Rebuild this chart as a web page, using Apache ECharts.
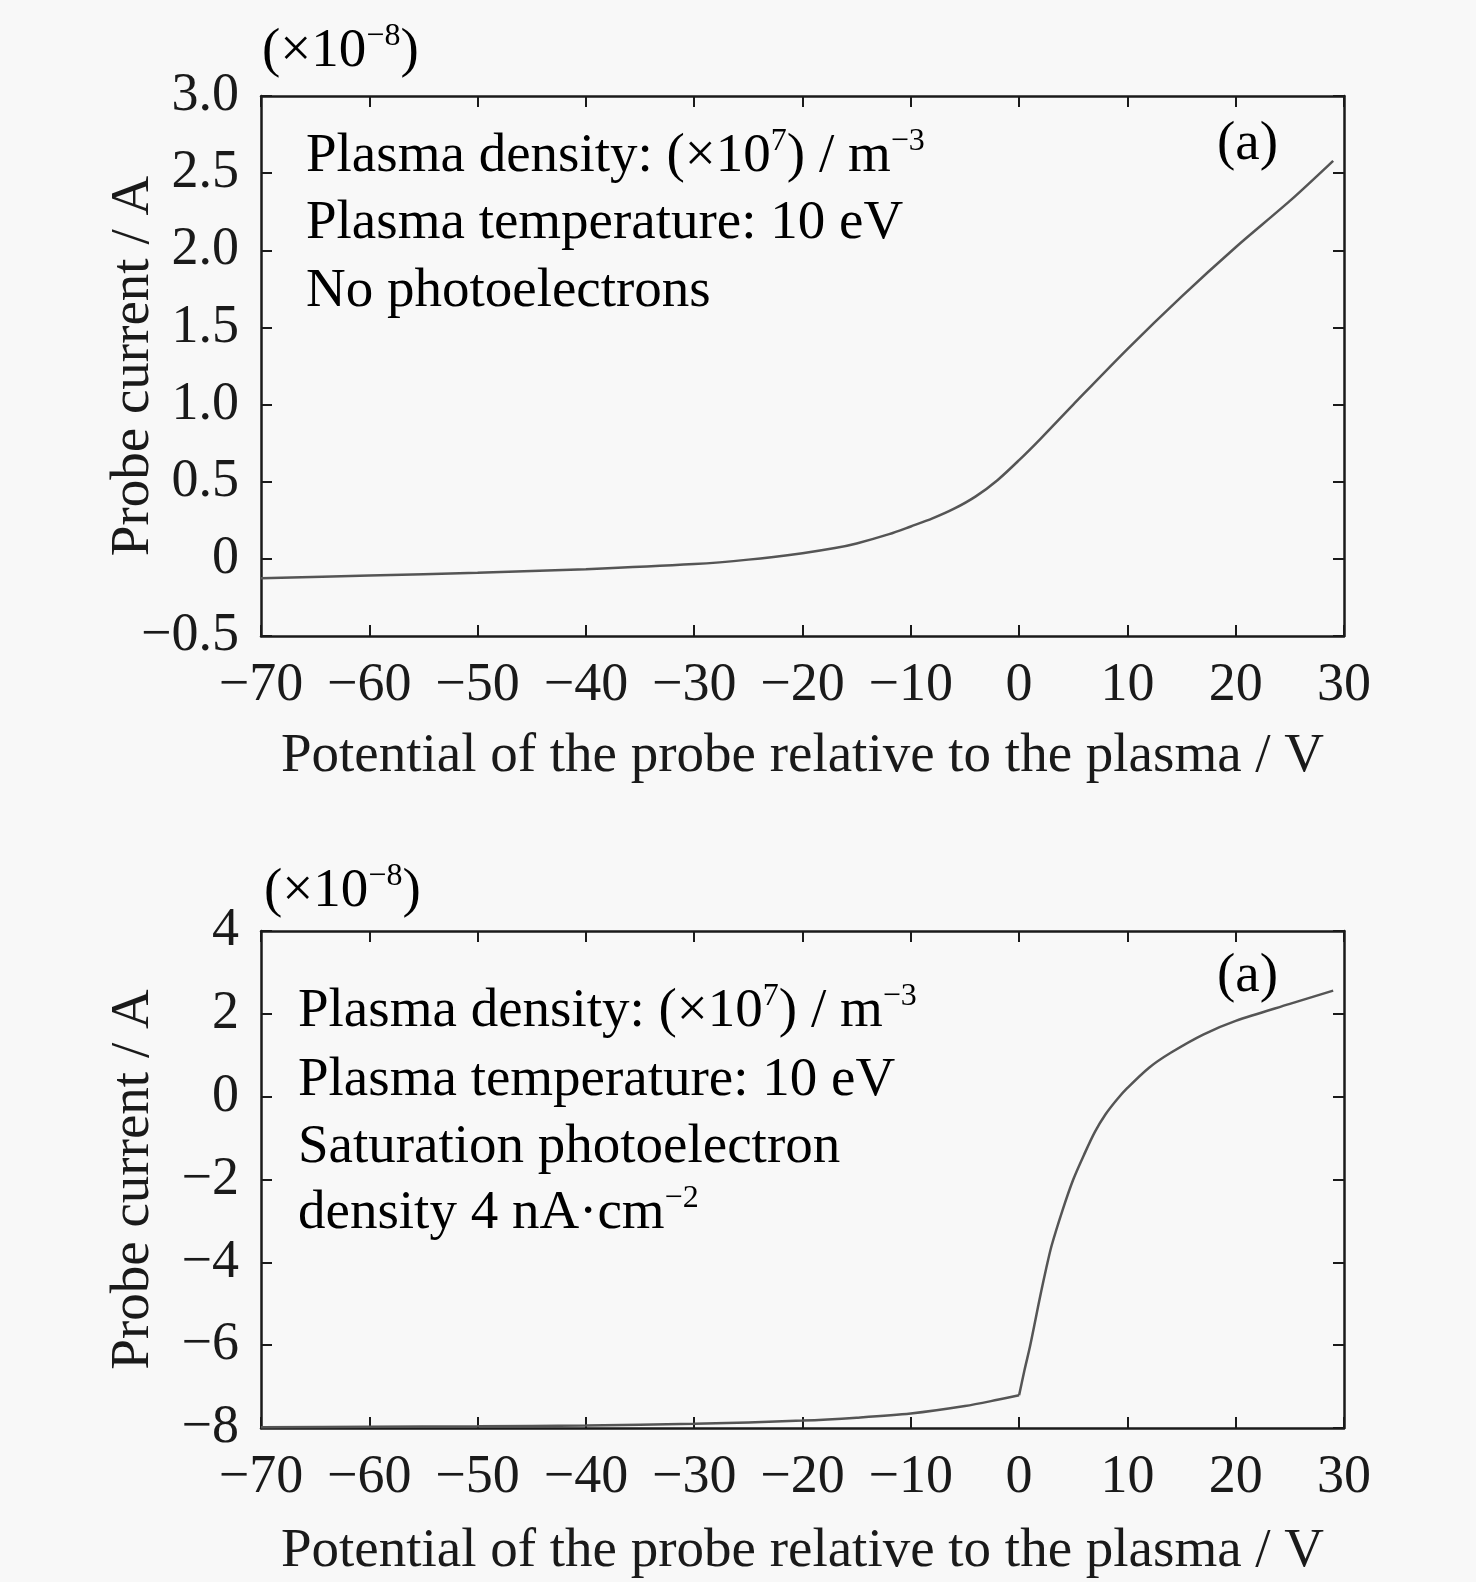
<!DOCTYPE html>
<html>
<head>
<meta charset="utf-8">
<script src="https://cdn.jsdelivr.net/npm/echarts@6/dist/echarts.min.js"></script>
<style>
html,body{margin:0;padding:0;background:#f8f8f8;}
#c{width:1476px;height:1582px;}
</style>
</head>
<body>
<div id="c"></div>
<script>
// Top panel: no photoelectrons
const topX = [-70,-60,-50,-40,-30,-25,-20,-17,-15,-12,-10,-8,-6,-4,-2,0,2,5,10,15,20,25,29];
const topY = [-0.125,-0.108,-0.09,-0.067,-0.034,-0.005,0.037,0.07,0.1,0.16,0.21,0.262,0.325,0.405,0.51,0.64,0.78,1.0,1.36,1.7,2.02,2.32,2.58];
// Bottom panel: saturation photoelectron density 4 nA/cm^2
const botX = [-70,-60,-50,-40,-30,-20,-15,-10,-5,-2,0,0.5,1,1.5,2,2.5,3,4,5,6,7,8,9,10,12,14,17,20,25,29];
const botY = [-7.98,-7.97,-7.96,-7.94,-7.9,-7.82,-7.75,-7.65,-7.47,-7.32,-7.21,-6.6,-6.04,-5.4,-4.75,-4.15,-3.6,-2.75,-2.0,-1.4,-0.85,-0.42,-0.08,0.21,0.7,1.06,1.5,1.83,2.24,2.56];

const xTicks = {min:-70, max:30, interval:10};
const topYTicks = {min:-0.5, max:3.0, interval:0.5};
const botYTicks = {min:-8, max:4, interval:2};

const xTitle = 'Potential of the probe relative to the plasma / V';
const yTitle = 'Probe current / A';
const topNotes = [
  '{n|Plasma density: (×10}{s|7}{n|) / m}{s|−3}',
  '{n|Plasma temperature: 10 eV}',
  '{n|No photoelectrons}'
];
const botNotes = [
  '{n|Plasma density: (×10}{s|7}{n|) / m}{s|−3}',
  '{n|Plasma temperature: 10 eV}',
  '{n|Saturation photoelectron}',
  '{n|density 4 nA·cm}{s|−2}'
];
const scaleLabel = '{n|(×10}{s|−8}{n|)}';
const panelTag = '(a)';

const FONT = '"Liberation Serif","Times New Roman",serif';
const FS = 55;
const TFS = 54;
const INK = '#1a1a1a';
const rich = {
  n:{fontFamily:FONT, fontSize:FS, color:INK, lineHeight:62},
  s:{fontFamily:FONT, fontSize:32, color:INK, lineHeight:32, verticalAlign:'top', padding:[0,0,0,0]}
};
const minus = v => String(v).replace('-', '−');

function xAx(grid, gap, main){
  return {
    type:'value', gridIndex:grid, position: main ? 'bottom':'top',
    min:xTicks.min, max:xTicks.max, interval:xTicks.interval,
    name: main ? xTitle : '', nameLocation:'middle', nameGap:gap, nameMoveOverlap:false,
    nameTextStyle:{fontFamily:FONT, fontSize:FS, color:INK},
    axisLine:{show:true, onZero:false, lineStyle:{color:INK, width:2.5}},
    axisTick:{show:true, inside:true, length:11, lineStyle:{color:INK, width:2}},
    axisLabel:{show:main, margin:23, fontFamily:FONT, fontSize:TFS, color:INK, formatter:v=>minus(v)},
    splitLine:{show:false}
  };
}
function yAx(grid, t, fmt, main){
  return {
    type:'value', gridIndex:grid, position: main ? 'left':'right',
    min:t.min, max:t.max, interval:t.interval,
    name: main ? yTitle : '', nameLocation:'middle', nameGap:100, nameMoveOverlap:false,
    nameTextStyle:{fontFamily:FONT, fontSize:FS, color:INK},
    axisLine:{show:true, onZero:false, lineStyle:{color:INK, width:2.5}},
    axisTick:{show:true, inside:true, length:11, lineStyle:{color:INK, width:2}},
    axisLabel:{show:main, margin:22, fontFamily:FONT, fontSize:TFS, color:INK, formatter:fmt},
    splitLine:{show:false}
  };
}
const fmtTop = v => v === 0 ? '0' : minus(v.toFixed(1));
const fmtBot = v => minus(v);

const graphics = [];
graphics.push({type:'text', x:262, y:52, style:{text:scaleLabel, rich:rich, textVerticalAlign:'middle'}});
graphics.push({type:'text', x:264, y:892, style:{text:scaleLabel, rich:rich, textVerticalAlign:'middle'}});
[157,224,292].forEach((y,i)=>graphics.push({type:'text', x:306, y:y, style:{text:topNotes[i], rich:rich, textVerticalAlign:'middle'}}));
[1012,1081,1148,1214].forEach((y,i)=>graphics.push({type:'text', x:298, y:y, style:{text:botNotes[i], rich:rich, textVerticalAlign:'middle'}}));
graphics.push({type:'text', x:1217, y:145, style:{text:'{n|'+panelTag+'}', rich:rich, textVerticalAlign:'middle'}});
graphics.push({type:'text', x:1217, y:977, style:{text:'{n|'+panelTag+'}', rich:rich, textVerticalAlign:'middle'}});

const botSplit = botX.indexOf(0);
const botLeft = botX.slice(0, botSplit + 1).map((x,i)=>[x, botY[i]]);
const botRight = botX.slice(botSplit).map((x,i)=>[x, botY[botSplit + i]]);
const lineStyle = {color:'#555', width:2.5};

const chart = echarts.init(document.getElementById('c'), null, {renderer:'canvas'});
chart.setOption({
  backgroundColor:'#f8f8f8',
  animation:false,
  grid:[
    {left:261, top:96, width:1083, height:540},
    {left:261, top:931, width:1083, height:497}
  ],
  xAxis:[xAx(0,93,true), xAx(0,0,false), xAx(1,96,true), xAx(1,0,false)],
  yAxis:[yAx(0,topYTicks,fmtTop,true), yAx(0,topYTicks,fmtTop,false), yAx(1,botYTicks,fmtBot,true), yAx(1,botYTicks,fmtBot,false)],
  series:[
    {type:'line', xAxisIndex:0, yAxisIndex:0, showSymbol:false, smooth:0.3,
     lineStyle:lineStyle, data:topX.map((x,i)=>[x, topY[i]])},
    {type:'line', xAxisIndex:2, yAxisIndex:2, showSymbol:false, smooth:0.3,
     lineStyle:lineStyle, data:botLeft},
    {type:'line', xAxisIndex:2, yAxisIndex:2, showSymbol:false, smooth:0.3,
     lineStyle:lineStyle, data:botRight}
  ],
  graphic:graphics
});
</script>
</body>
</html>
